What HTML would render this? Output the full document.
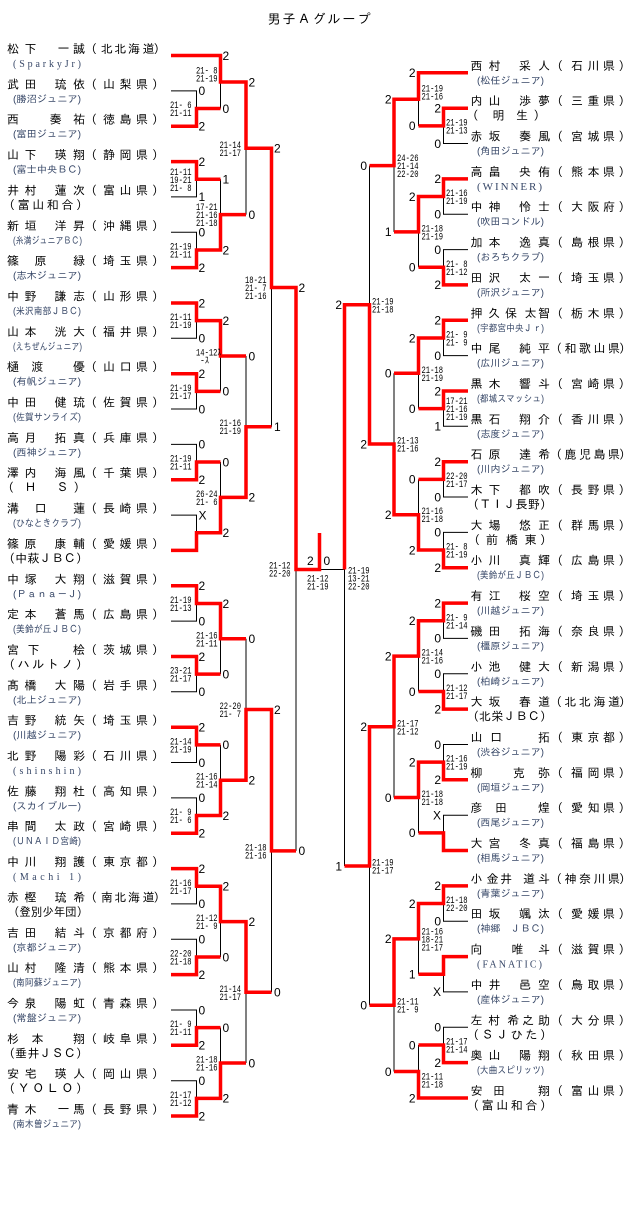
<!DOCTYPE html>
<html><head><meta charset="utf-8">
<style>
html,body{margin:0;padding:0;background:#fff;}
svg{display:block}
.t{font-family:"Liberation Sans","IPAGothic","Noto Sans CJK JP",sans-serif;font-size:12px;fill:#000}
.ti{font-family:"Liberation Sans","IPAGothic","Noto Sans CJK JP",sans-serif;font-size:13px;fill:#000;letter-spacing:2px}
.s{font-family:"Liberation Sans","IPAGothic","Noto Sans CJK JP",sans-serif;font-size:10px;fill:#384868}
.sf{font-family:"Liberation Serif","IPAGothic",serif;font-size:10px;fill:#384868}
.sw{font-family:"Liberation Serif","IPAGothic",serif;font-size:11px;fill:#384868}
.d{font-family:"Liberation Sans",sans-serif;font-size:12px;fill:#000}
.dr{font-family:"Liberation Sans",sans-serif;font-size:12px;fill:#000;text-anchor:end}
.m{font-family:"Liberation Mono","IPAGothic",monospace;font-size:10px;fill:#000}
.r{fill:none;stroke:#f00;stroke-width:3.5;stroke-linejoin:miter}
.k{fill:none;stroke:#000;stroke-width:1}
</style></head><body>
<svg xmlns="http://www.w3.org/2000/svg" width="640" height="1205" viewBox="0 0 640 1205">
<rect width="640" height="1205" fill="#fff"/>
<text class="ti" x="320" y="23.5" text-anchor="middle">男子Ａグループ</text>

<!-- black lines -->
<path class="k" d="
M171 90.9H196.5V108.55 M171 196.9H196.5V179.25 M171 232.3H196.5V249.95 M171 338.3H196.5V320.65
M171 409H196.5V391.35 M171 444.4H196.5V462.05 M171 515.1H196.5V532.75 M171 621.1H196.5V603.45
M171 691.8H196.5V674.15 M171 762.5H196.5V744.85 M171 797.9H196.5V815.55 M171 903.9H196.5V886.25
M171 939.3H196.5V956.95 M171 1010H196.5V1027.65 M171 1080.7H196.5V1098.35
M220.5 108.55V82 M220.5 179.25V214.6 M220.5 391.35V356 M220.5 462.05V497.4
M220.5 674.15V638.8 M220.5 744.85V780.2 M220.5 956.95V921.6 M220.5 1027.65V1063
M246 214.6V148.3 M246 356V426.7 M246 638.8V709.5 M246 1063V992.3
M271.5 426.7V287.5 M271.5 992.3V850.9
M296 850.9V569.5
M468 143.5H443.5V125.85 M468 214.2H443.5V196.55 M468 249.6H443.5V267.25 M468 355.6H443.5V337.95
M468 426.3H443.5V408.65 M468 497H443.5V479.35 M468 532.4H443.5V550.05 M468 638.4H443.5V620.75
M468 673.8H443.5V691.45 M468 744.5H443.5V762.15 M468 815.2H443.5V832.85 M468 921.2H443.5V903.55
M468 991.9H443.5V974.25 M468 1027.3H443.5V1044.95
M418.5 125.85V99.3 M418.5 267.25V231.9 M418.5 408.65V373.3 M418.5 479.35V514.7
M418.5 691.45V656.1 M418.5 832.85V797.5 M418.5 974.25V938.9 M418.5 1044.95V1071.5
M394 231.9V165.6 M394 373.3V444 M394 797.5V726.8 M394 1071.5V1005.2
M369.5 165.6V304.8 M369.5 1005.2V866
M344.5 866V569.5H319.5"/>

<!-- red lines -->
<path class="r" d="
M171 55.5H220.5
M171 126.2H196.5V108.55H220.5 M171 161.6H196.5V179.25H220.5 M171 267.6H196.5V249.95H220.5
M171 303H196.5V320.65H220.5 M171 373.7H196.5V391.35H220.5 M171 479.7H196.5V462.05H220.5
M171 550.4H196.5V532.75H220.5 M171 585.8H196.5V603.45H220.5 M171 656.5H196.5V674.15H220.5
M171 727.2H196.5V744.85H220.5 M171 833.2H196.5V815.55H220.5 M171 868.6H196.5V886.25H220.5
M171 974.6H196.5V956.95H220.5 M171 1045.3H196.5V1027.65H220.5 M171 1116H196.5V1098.35H220.5
M196.5 55.5H220.5V82H246 M196.5 249.95H220.5V214.6H246 M196.5 320.65H220.5V356H246
M196.5 532.75H220.5V497.4H246 M196.5 603.45H220.5V638.8H246 M196.5 815.55H220.5V780.2H246
M196.5 886.25H220.5V921.6H246 M196.5 1098.35H220.5V1063H246
M220.5 82H246V148.3H271.5 M220.5 497.4H246V426.7H271.5 M220.5 780.2H246V709.5H271.5 M220.5 921.6H246V992.3H271.5
M246 148.3H271.5V287.5H296 M246 709.5H271.5V850.9H296
M271.5 287.5H296V569.5H319.5V533
M468 72.8H418.5 M468 1098H418.5
M468 108.2H443.5V125.85H418.5 M468 178.9H443.5V196.55H418.5 M468 284.9H443.5V267.25H418.5
M468 320.3H443.5V337.95H418.5 M468 391H443.5V408.65H418.5 M468 461.7H443.5V479.35H418.5
M468 567.7H443.5V550.05H418.5 M468 603.1H443.5V620.75H418.5 M468 709.1H443.5V691.45H418.5
M468 779.8H443.5V762.15H418.5 M468 850.5H443.5V832.85H418.5 M468 885.9H443.5V903.55H418.5
M468 956.6H443.5V974.25H418.5 M468 1062.6H443.5V1044.95H418.5
M443.5 72.8H418.5V99.3H394 M443.5 196.55H418.5V231.9H394 M443.5 337.95H418.5V373.3H394
M443.5 550.05H418.5V514.7H394 M443.5 620.75H418.5V656.1H394 M443.5 762.15H418.5V797.5H394
M443.5 903.55H418.5V938.9H394 M443.5 1098H418.5V1071.5H394
M418.5 99.3H394V165.6H369.5 M418.5 514.7H394V444H369.5 M418.5 656.1H394V726.8H369.5 M418.5 938.9H394V1005.2H369.5
M394 444H369.5V304.8H344.5 M394 726.8H369.5V866H344.5
M369.5 304.8H344.5V569.5"/>

<!-- LEFT names -->
<g class="t">
<text x="7 24.5 57.5 73" y="53">松下一誠</text><text x="85 101 114.5 128 142.5 153.5" y="53">（北北海道）</text>
<text x="7 24.5 54.5 73" y="88.4">武田琉依</text><text x="85 103 119.5 136 152" y="88.4">（山梨県）</text>
<text x="7 49.5 73" y="123.7">西奏祐</text><text x="85 103 119.5 136 152" y="123.7">（徳島県）</text>
<text x="7 24.5 54.5 73" y="159.1">山下瑛翔</text><text x="85 103 119.5 136 152" y="159.1">（静岡県）</text>
<text x="7 24.5 54.5 73" y="194.4">井村蓮次</text><text x="85 103 119.5 136 152" y="194.4">（富山県）</text>
<text x="7 24.5 54.5 73" y="229.8">新垣洋昇</text><text x="85 103 119.5 136 152" y="229.8">（沖縄県）</text>
<text x="7 34.5 73" y="265.1">篠原緑</text><text x="85 103 119.5 136 152" y="265.1">（埼玉県）</text>
<text x="7 24.5 54.5 73" y="300.5">中野謙志</text><text x="85 103 119.5 136 152" y="300.5">（山形県）</text>
<text x="7 24.5 54.5 73" y="335.8">山本洸大</text><text x="85 103 119.5 136 152" y="335.8">（福井県）</text>
<text x="7 31.5 73" y="371.2">樋渡優</text><text x="85 103 119.5 136 152" y="371.2">（山口県）</text>
<text x="7 24.5 54.5 73" y="406.5">中田健琉</text><text x="85 103 119.5 136 152" y="406.5">（佐賀県）</text>
<text x="7 24.5 54.5 73" y="441.9">高月拓真</text><text x="85 103 119.5 136 152" y="441.9">（兵庫県）</text>
<text x="7 24.5 54.5 73" y="477.2">澤内海風</text><text x="85 103 119.5 136 152" y="477.2">（千葉県）</text>
<text x="7 34.5 73" y="512.6">溝口蓮</text><text x="85 103 119.5 136 152" y="512.6">（長崎県）</text>
<text x="7 24.5 54.5 73" y="547.9">篠原康輔</text><text x="85 103 119.5 136 152" y="547.9">（愛媛県）</text>
<text x="7 24.5 54.5 73" y="583.3">中塚大翔</text><text x="85 103 119.5 136 152" y="583.3">（滋賀県）</text>
<text x="7 24.5 54.5 73" y="618.6">定本蒼馬</text><text x="85 103 119.5 136 152" y="618.6">（広島県）</text>
<text x="7 27.5 73" y="654">宮下桧</text><text x="85 103 119.5 136 152" y="654">（茨城県）</text>
<text x="7 24.5 54.5 73" y="689.3">髙橋大陽</text><text x="85 103 119.5 136 152" y="689.3">（岩手県）</text>
<text x="7 24.5 54.5 73" y="724.7">吉野統矢</text><text x="85 103 119.5 136 152" y="724.7">（埼玉県）</text>
<text x="7 24.5 54.5 73" y="760">北野陽彩</text><text x="85 103 119.5 136 152" y="760">（石川県）</text>
<text x="7 24.5 54.5 73" y="795.4">佐藤翔杜</text><text x="85 103 119.5 136 152" y="795.4">（高知県）</text>
<text x="7 24.5 54.5 73" y="830.7">串間太政</text><text x="85 103 119.5 136 152" y="830.7">（宮崎県）</text>
<text x="7 24.5 54.5 73" y="866.1">中川翔護</text><text x="85 103 119.5 136 152" y="866.1">（東京都）</text>
<text x="7 24.5 54.5 73" y="901.4">赤樫琉希</text><text x="85 101 114.5 128 142.5 153.5" y="901.4">（南北海道）</text>
<text x="7 24.5 54.5 73" y="936.8">吉田結斗</text><text x="85 103 119.5 136 152" y="936.8">（京都府）</text>
<text x="7 24.5 54.5 73" y="972.1">山村隆清</text><text x="85 103 119.5 136 152" y="972.1">（熊本県）</text>
<text x="7 24.5 54.5 73" y="1007.5">今泉陽虹</text><text x="85 103 119.5 136 152" y="1007.5">（青森県）</text>
<text x="7 31.5 73" y="1042.8">杉本翔</text><text x="85 103 119.5 136 152" y="1042.8">（岐阜県）</text>
<text x="7 24.5 54.5 73" y="1078.2">安宅瑛人</text><text x="85 103 119.5 136 152" y="1078.2">（岡山県）</text>
<text x="7 24.5 57.5 73" y="1113.5">青木一馬</text><text x="85 103 119.5 136 152" y="1113.5">（長野県）</text>
<!-- left full-size teams -->
<text x="3" y="208.9" textLength="85" lengthAdjust="spacing">（富山和合）</text>
<text x="2 24.5 56.5 73.5" y="491.7">（ＨＳ）</text>
<text x="3" y="562.4" textLength="85" lengthAdjust="spacing">（中萩ＪＢＣ）</text>
<text x="3" y="668.5" textLength="85" lengthAdjust="spacing">（ハルトノ）</text>
<text x="8" y="915.9" textLength="80" lengthAdjust="spacingAndGlyphs">（登別少年団）</text>
<text x="3" y="1057.3" textLength="85" lengthAdjust="spacing">（垂井ＪＳＣ）</text>
<text x="3" y="1092.7" textLength="85" lengthAdjust="spacing">（ＹＯＬＯ）</text>
</g>
<!-- left small teams -->
<g class="s">
<text class="sf" x="13" y="67" textLength="68" lengthAdjust="spacing">(SparkyJr)</text>
<text x="13" y="102.4" textLength="68" lengthAdjust="spacingAndGlyphs">(勝沼ジュニア)</text>
<text x="13" y="137.7" textLength="68" lengthAdjust="spacingAndGlyphs">(富田ジュニア)</text>
<text x="13" y="173.1" textLength="68" lengthAdjust="spacingAndGlyphs">(富士中央ＢＣ)</text>
<text x="13" y="243.8" textLength="69" lengthAdjust="spacingAndGlyphs">(糸満ジュニアＢＣ)</text>
<text x="13" y="279.1" textLength="68" lengthAdjust="spacingAndGlyphs">(志木ジュニア)</text>
<text x="13" y="314.5" textLength="68" lengthAdjust="spacingAndGlyphs">(米沢南部ＪＢＣ)</text>
<text x="13" y="349.8" textLength="69" lengthAdjust="spacingAndGlyphs">(えちぜんジュニア)</text>
<text x="13" y="385.2" textLength="68" lengthAdjust="spacingAndGlyphs">(有帆ジュニア)</text>
<text x="13" y="420.5" textLength="68" lengthAdjust="spacingAndGlyphs">(佐賀サンライズ)</text>
<text x="13" y="455.9" textLength="68" lengthAdjust="spacingAndGlyphs">(西神ジュニア)</text>
<text x="13" y="526.6" textLength="68" lengthAdjust="spacingAndGlyphs">(ひなときクラブ)</text>
<text x="13" y="597.3" textLength="68" lengthAdjust="spacingAndGlyphs">(Ｐａｎａ－Ｊ)</text>
<text x="13" y="632.6" textLength="68" lengthAdjust="spacingAndGlyphs">(美鈴が丘ＪＢＣ)</text>
<text x="13" y="703.3" textLength="68" lengthAdjust="spacingAndGlyphs">(北上ジュニア)</text>
<text x="13" y="738.7" textLength="68" lengthAdjust="spacingAndGlyphs">(川越ジュニア)</text>
<text class="sf" x="13" y="774" textLength="68" lengthAdjust="spacing">(shinshin)</text>
<text x="13" y="809.4" textLength="68" lengthAdjust="spacingAndGlyphs">(スカイブルー)</text>
<text x="13" y="844.7" textLength="68" lengthAdjust="spacingAndGlyphs">(ＵＮＡＩＤ宮崎)</text>
<text class="sf" x="13" y="880.1" textLength="68" lengthAdjust="spacing">(Machi 1)</text>
<text x="13" y="950.8" textLength="68" lengthAdjust="spacingAndGlyphs">(京都ジュニア)</text>
<text x="13" y="986.1" textLength="68" lengthAdjust="spacingAndGlyphs">(南阿蘇ジュニア)</text>
<text x="13" y="1021.5" textLength="68" lengthAdjust="spacingAndGlyphs">(常盤ジュニア)</text>
<text x="13" y="1127.5" textLength="68" lengthAdjust="spacingAndGlyphs">(南木曽ジュニア)</text>
</g>

<!-- RIGHT names -->
<g class="t">
<text x="470.5 488.5 519 538" y="69.8">西村采人</text><text x="551 571 587.5 603 618.5" y="69.8">（石川県）</text>
<text x="470.5 488.5 519 538" y="105.2">内山渉夢</text><text x="551 571 587.5 603 618.5" y="105.2">（三重県）</text>
<text x="470.5 488.5 519 538" y="140.5">赤坂奏風</text><text x="551 571 587.5 603 618.5" y="140.5">（宮城県）</text>
<text x="470.5 488.5 519 538" y="175.9">高畠央侑</text><text x="551 571 587.5 603 618.5" y="175.9">（熊本県）</text>
<text x="470.5 488.5 519 538" y="211.2">中神怜士</text><text x="551 571 587.5 603 618.5" y="211.2">（大阪府）</text>
<text x="470.5 488.5 519 538" y="246.6">加本逸真</text><text x="551 571 587.5 603 618.5" y="246.6">（島根県）</text>
<text x="470.5 488.5 519 538" y="281.9">田沢太一</text><text x="551 571 587.5 603 618.5" y="281.9">（埼玉県）</text>
<text x="470.5 488 505 524.5 538" y="317.3">押久保太智</text><text x="551 571 587.5 603 618.5" y="317.3">（栃木県）</text>
<text x="470.5 488.5 519 538" y="352.6">中尾純平</text><text x="550 564.5 579 593.5 608 619" y="352.6">（和歌山県）</text>
<text x="470.5 488.5 519 538" y="388">黒木響斗</text><text x="551 571 587.5 603 618.5" y="388">（宮崎県）</text>
<text x="470.5 488.5 519 538" y="423.3">黒石翔介</text><text x="551 571 587.5 603 618.5" y="423.3">（香川県）</text>
<text x="470.5 488.5 519 538" y="458.7">石原達希</text><text x="550 564.5 579 593.5 608 619" y="458.7">（鹿児島県）</text>
<text x="470.5 488.5 519 538" y="494">木下都吹</text><text x="551 571 587.5 603 618.5" y="494">（長野県）</text>
<text x="470.5 488.5 519 538" y="529.4">大場悠正</text><text x="551 571 587.5 603 618.5" y="529.4">（群馬県）</text>
<text x="470.5 488.5 519 538" y="564.7">小川真輝</text><text x="551 571 587.5 603 618.5" y="564.7">（広島県）</text>
<text x="470.5 488.5 519 538" y="600.1">有江桜空</text><text x="551 571 587.5 603 618.5" y="600.1">（埼玉県）</text>
<text x="470.5 488.5 519 538" y="635.4">磯田拓海</text><text x="551 571 587.5 603 618.5" y="635.4">（奈良県）</text>
<text x="470.5 488.5 519 538" y="670.8">小池健大</text><text x="551 571 587.5 603 618.5" y="670.8">（新潟県）</text>
<text x="470.5 488.5 519 538" y="706.1">大坂春道</text><text x="550 564.5 579 593.5 608 619" y="706.1">（北北海道）</text>
<text x="470.5 490 538" y="741.5">山口拓</text><text x="551 571 587.5 603 618.5" y="741.5">（東京都）</text>
<text x="470.5 513 538" y="776.8">柳克弥</text><text x="551 571 587.5 603 618.5" y="776.8">（福岡県）</text>
<text x="470.5 495 538" y="812.2">彦田煌</text><text x="551 571 587.5 603 618.5" y="812.2">（愛知県）</text>
<text x="470.5 488.5 519 538" y="847.5">大宮冬真</text><text x="551 571 587.5 603 618.5" y="847.5">（福島県）</text>
<text x="470.5 486.5 500 523 538" y="882.9">小金井道斗</text><text x="550 564.5 579 593.5 608 619" y="882.9">（神奈川県）</text>
<text x="470.5 488.5 519 538" y="918.2">田坂颯汰</text><text x="551 571 587.5 603 618.5" y="918.2">（愛媛県）</text>
<text x="470.5 511.5 538" y="953.6">向唯斗</text><text x="551 571 587.5 603 618.5" y="953.6">（滋賀県）</text>
<text x="470.5 488.5 519 538" y="988.9">中井邑空</text><text x="551 571 587.5 603 618.5" y="988.9">（鳥取県）</text>
<text x="470.5 488 507 522 538" y="1024.3">左村希之助</text><text x="551 571 587.5 603 618.5" y="1024.3">（大分県）</text>
<text x="470.5 488.5 519 538" y="1059.6">奥山陽翔</text><text x="551 571 587.5 603 618.5" y="1059.6">（秋田県）</text>
<text x="470.5 493 538" y="1095">安田翔</text><text x="551 571 587.5 603 618.5" y="1095">（富山県）</text>
<!-- right full-size teams -->
<text x="466.5 492.5 516 533.5" y="119.7">（明生）</text>
<text x="467" y="508.5" textLength="85" lengthAdjust="spacing">（ＴＩＪ長野）</text>
<text x="468 486 506 524.5 540" y="543.9">（前橋東）</text>
<text x="467" y="720.6" textLength="85" lengthAdjust="spacing">（北栄ＪＢＣ）</text>
<text x="467" y="1038.8" textLength="85" lengthAdjust="spacing">（ＳＪひた）</text>
<text x="467" y="1109.5" textLength="85" lengthAdjust="spacing">（富山和合）</text>
</g>
<!-- right small teams -->
<g class="s">
<text x="477" y="83.8" textLength="67" lengthAdjust="spacingAndGlyphs">(松任ジュニア)</text>
<text x="477" y="154.5" textLength="67" lengthAdjust="spacingAndGlyphs">(角田ジュニア)</text>
<text class="sw" x="477" y="189.9" textLength="65" lengthAdjust="spacing">(WINNER)</text>
<text x="477" y="225.2" textLength="67" lengthAdjust="spacingAndGlyphs">(吹田コンドル)</text>
<text x="477" y="260.6" textLength="67" lengthAdjust="spacingAndGlyphs">(おろちクラブ)</text>
<text x="477" y="295.9" textLength="67" lengthAdjust="spacingAndGlyphs">(所沢ジュニア)</text>
<text x="477" y="331.3" textLength="67" lengthAdjust="spacingAndGlyphs">(宇都宮中央Ｊｒ)</text>
<text x="477" y="366.6" textLength="67" lengthAdjust="spacingAndGlyphs">(広川ジュニア)</text>
<text x="477" y="402" textLength="67" lengthAdjust="spacingAndGlyphs">(都城スマッシュ)</text>
<text x="477" y="437.3" textLength="67" lengthAdjust="spacingAndGlyphs">(志度ジュニア)</text>
<text x="477" y="472.7" textLength="67" lengthAdjust="spacingAndGlyphs">(川内ジュニア)</text>
<text x="477" y="578.7" textLength="67" lengthAdjust="spacingAndGlyphs">(美鈴が丘ＪＢＣ)</text>
<text x="477" y="614.1" textLength="67" lengthAdjust="spacingAndGlyphs">(川越ジュニア)</text>
<text x="477" y="649.4" textLength="67" lengthAdjust="spacingAndGlyphs">(橿原ジュニア)</text>
<text x="477" y="684.8" textLength="67" lengthAdjust="spacingAndGlyphs">(柏崎ジュニア)</text>
<text x="477" y="755.5" textLength="67" lengthAdjust="spacingAndGlyphs">(渋谷ジュニア)</text>
<text x="477" y="790.8" textLength="67" lengthAdjust="spacingAndGlyphs">(岡垣ジュニア)</text>
<text x="477" y="826.2" textLength="67" lengthAdjust="spacingAndGlyphs">(西尾ジュニア)</text>
<text x="477" y="861.5" textLength="67" lengthAdjust="spacingAndGlyphs">(相馬ジュニア)</text>
<text x="477" y="896.9" textLength="67" lengthAdjust="spacingAndGlyphs">(青葉ジュニア)</text>
<text x="477" y="932.2" textLength="67" lengthAdjust="spacingAndGlyphs">(神郷　ＪＢＣ)</text>
<text class="sf" x="477" y="967.6" textLength="65" lengthAdjust="spacing">(FANATIC)</text>
<text x="477" y="1002.9" textLength="67" lengthAdjust="spacingAndGlyphs">(産体ジュニア)</text>
<text x="477" y="1073.6" textLength="67" lengthAdjust="spacingAndGlyphs">(大曲スピリッツ)</text>
</g>

<!-- left digits -->
<g class="d">
<text x="198.5" y="95.2">0</text><text x="198.5" y="130.5">2</text>
<text x="198.5" y="165.9">2</text><text x="198.5" y="201.2">1</text>
<text x="198.5" y="236.6">0</text><text x="198.5" y="271.9">2</text>
<text x="198.5" y="307.3">2</text><text x="198.5" y="342.6">0</text>
<text x="198.5" y="378">2</text><text x="198.5" y="413.3">0</text>
<text x="198.5" y="448.7">0</text><text x="198.5" y="484">2</text>
<text x="198.5" y="519.4">X</text>
<text x="198.5" y="590.1">2</text><text x="198.5" y="625.4">0</text>
<text x="198.5" y="660.8">2</text><text x="198.5" y="696.1">0</text>
<text x="198.5" y="731.5">2</text><text x="198.5" y="766.8">0</text>
<text x="198.5" y="802.2">0</text><text x="198.5" y="837.5">2</text>
<text x="198.5" y="872.9">2</text><text x="198.5" y="908.2">0</text>
<text x="198.5" y="943.6">0</text><text x="198.5" y="978.9">2</text>
<text x="198.5" y="1014.3">0</text><text x="198.5" y="1049.6">2</text>
<text x="198.5" y="1085">0</text><text x="198.5" y="1120.3">2</text>
<text x="222.5" y="59.8">2</text><text x="222.5" y="112.85">0</text>
<text x="222.5" y="183.55">1</text><text x="222.5" y="254.25">2</text>
<text x="222.5" y="324.95">2</text><text x="222.5" y="395.65">0</text>
<text x="222.5" y="466.35">0</text><text x="222.5" y="537.05">2</text>
<text x="222.5" y="607.75">2</text><text x="222.5" y="678.45">0</text>
<text x="222.5" y="749.15">0</text><text x="222.5" y="819.85">2</text>
<text x="222.5" y="890.55">2</text><text x="222.5" y="961.25">0</text>
<text x="222.5" y="1031.95">0</text><text x="222.5" y="1102.65">2</text>
<text x="248.5" y="86.3">2</text><text x="248.5" y="218.9">0</text>
<text x="248.5" y="360.3">0</text><text x="248.5" y="501.7">2</text>
<text x="248.5" y="643.1">0</text><text x="248.5" y="784.5">2</text>
<text x="248.5" y="925.9">2</text><text x="248.5" y="1067.3">0</text>
<text x="274" y="152.6">2</text><text x="274" y="431">1</text>
<text x="274" y="713.8">2</text><text x="274" y="996.6">0</text>
<text x="298.5" y="291.8">2</text><text x="298.5" y="855.2">0</text>
<text x="307" y="565">2</text><text x="323.5" y="565">0</text>
</g>
<!-- right digits -->
<g class="dr">
<text x="441" y="112.5">2</text><text x="441" y="147.8">0</text>
<text x="441" y="183.2">2</text><text x="441" y="218.5">0</text>
<text x="441" y="253.9">0</text><text x="441" y="289.2">2</text>
<text x="441" y="324.6">2</text><text x="441" y="359.9">0</text>
<text x="441" y="395.3">2</text><text x="441" y="430.6">1</text>
<text x="441" y="466">2</text><text x="441" y="501.3">0</text>
<text x="441" y="536.7">0</text><text x="441" y="572">2</text>
<text x="441" y="607.4">2</text><text x="441" y="642.7">0</text>
<text x="441" y="678.1">0</text><text x="441" y="713.4">2</text>
<text x="441" y="748.8">0</text><text x="441" y="784.1">2</text>
<text x="441" y="819.5">X</text>
<text x="441" y="890.2">2</text><text x="441" y="925.5">0</text>
<text x="441" y="996.2">X</text>
<text x="441" y="1031.6">0</text><text x="441" y="1066.9">2</text>
<text x="415.5" y="77.1">2</text><text x="415.5" y="130.15">0</text>
<text x="415.5" y="200.85">2</text><text x="415.5" y="271.55">0</text>
<text x="415.5" y="342.25">2</text><text x="415.5" y="412.95">0</text>
<text x="415.5" y="483.65">0</text><text x="415.5" y="554.35">2</text>
<text x="415.5" y="625.05">2</text><text x="415.5" y="695.75">0</text>
<text x="415.5" y="766.45">2</text><text x="415.5" y="837.15">0</text>
<text x="415.5" y="907.85">2</text><text x="415.5" y="978.55">1</text>
<text x="415.5" y="1049.25">0</text><text x="415.5" y="1102.3">2</text>
<text x="391.5" y="103.6">2</text><text x="391.5" y="236.2">1</text>
<text x="391.5" y="377.6">0</text><text x="391.5" y="519">2</text>
<text x="391.5" y="660.4">2</text><text x="391.5" y="801.8">0</text>
<text x="391.5" y="943.2">2</text><text x="391.5" y="1075.8">0</text>
<text x="367" y="169.9">0</text><text x="367" y="448.3">2</text>
<text x="367" y="731.1">2</text><text x="367" y="1009.5">0</text>
<text x="342" y="309.1">2</text><text x="342" y="870.3">1</text>
</g>

<!-- match scores -->
<g class="m">
<!-- left L1 -->
<text x="170" y="108.05" textLength="21.5" lengthAdjust="spacingAndGlyphs">21- 6</text><text x="170" y="116.05" textLength="21.5" lengthAdjust="spacingAndGlyphs">21-11</text>
<text x="170" y="174.75" textLength="21.5" lengthAdjust="spacingAndGlyphs">21-11</text><text x="170" y="182.75" textLength="21.5" lengthAdjust="spacingAndGlyphs">19-21</text><text x="170" y="190.75" textLength="21.5" lengthAdjust="spacingAndGlyphs">21- 8</text>
<text x="170" y="249.45" textLength="21.5" lengthAdjust="spacingAndGlyphs">21-19</text><text x="170" y="257.45" textLength="21.5" lengthAdjust="spacingAndGlyphs">21-11</text>
<text x="170" y="320.15" textLength="21.5" lengthAdjust="spacingAndGlyphs">21-11</text><text x="170" y="328.15" textLength="21.5" lengthAdjust="spacingAndGlyphs">21-19</text>
<text x="170" y="390.85" textLength="21.5" lengthAdjust="spacingAndGlyphs">21-19</text><text x="170" y="398.85" textLength="21.5" lengthAdjust="spacingAndGlyphs">21-17</text>
<text x="170" y="461.55" textLength="21.5" lengthAdjust="spacingAndGlyphs">21-19</text><text x="170" y="469.55" textLength="21.5" lengthAdjust="spacingAndGlyphs">21-11</text>
<text x="170" y="602.95" textLength="21.5" lengthAdjust="spacingAndGlyphs">21-19</text><text x="170" y="610.95" textLength="21.5" lengthAdjust="spacingAndGlyphs">21-13</text>
<text x="170" y="673.65" textLength="21.5" lengthAdjust="spacingAndGlyphs">23-21</text><text x="170" y="681.65" textLength="21.5" lengthAdjust="spacingAndGlyphs">21-17</text>
<text x="170" y="744.35" textLength="21.5" lengthAdjust="spacingAndGlyphs">21-14</text><text x="170" y="752.35" textLength="21.5" lengthAdjust="spacingAndGlyphs">21-19</text>
<text x="170" y="815.05" textLength="21.5" lengthAdjust="spacingAndGlyphs">21- 9</text><text x="170" y="823.05" textLength="21.5" lengthAdjust="spacingAndGlyphs">21- 6</text>
<text x="170" y="885.75" textLength="21.5" lengthAdjust="spacingAndGlyphs">21-16</text><text x="170" y="893.75" textLength="21.5" lengthAdjust="spacingAndGlyphs">21-17</text>
<text x="170" y="956.45" textLength="21.5" lengthAdjust="spacingAndGlyphs">22-20</text><text x="170" y="964.45" textLength="21.5" lengthAdjust="spacingAndGlyphs">21-18</text>
<text x="170" y="1027.15" textLength="21.5" lengthAdjust="spacingAndGlyphs">21- 9</text><text x="170" y="1035.15" textLength="21.5" lengthAdjust="spacingAndGlyphs">21-11</text>
<text x="170" y="1097.85" textLength="21.5" lengthAdjust="spacingAndGlyphs">21-17</text><text x="170" y="1105.85" textLength="21.5" lengthAdjust="spacingAndGlyphs">21-12</text>
<!-- left L2 -->
<text x="196" y="73.5" textLength="21.5" lengthAdjust="spacingAndGlyphs">21- 8</text><text x="196" y="81.5" textLength="21.5" lengthAdjust="spacingAndGlyphs">21-19</text>
<text x="196" y="210.1" textLength="21.5" lengthAdjust="spacingAndGlyphs">17-21</text><text x="196" y="218.1" textLength="21.5" lengthAdjust="spacingAndGlyphs">21-16</text><text x="196" y="226.1" textLength="21.5" lengthAdjust="spacingAndGlyphs">21-18</text>
<text x="196" y="355.5" textLength="25" lengthAdjust="spacingAndGlyphs">14-12ｽ</text><text x="200" y="363.5" textLength="9" lengthAdjust="spacingAndGlyphs">-ｽ</text>
<text x="196" y="496.9" textLength="21.5" lengthAdjust="spacingAndGlyphs">26-24</text><text x="196" y="504.9" textLength="21.5" lengthAdjust="spacingAndGlyphs">21- 6</text>
<text x="196" y="638.3" textLength="21.5" lengthAdjust="spacingAndGlyphs">21-16</text><text x="196" y="646.3" textLength="21.5" lengthAdjust="spacingAndGlyphs">21-11</text>
<text x="196" y="779.7" textLength="21.5" lengthAdjust="spacingAndGlyphs">21-16</text><text x="196" y="787.7" textLength="21.5" lengthAdjust="spacingAndGlyphs">21-14</text>
<text x="196" y="921.1" textLength="21.5" lengthAdjust="spacingAndGlyphs">21-12</text><text x="196" y="929.1" textLength="21.5" lengthAdjust="spacingAndGlyphs">21- 9</text>
<text x="196" y="1062.5" textLength="21.5" lengthAdjust="spacingAndGlyphs">21-18</text><text x="196" y="1070.5" textLength="21.5" lengthAdjust="spacingAndGlyphs">21-16</text>
<!-- left L3 -->
<text x="219.5" y="147.8" textLength="21.5" lengthAdjust="spacingAndGlyphs">21-14</text><text x="219.5" y="155.8" textLength="21.5" lengthAdjust="spacingAndGlyphs">21-17</text>
<text x="219.5" y="426.2" textLength="21.5" lengthAdjust="spacingAndGlyphs">21-16</text><text x="219.5" y="434.2" textLength="21.5" lengthAdjust="spacingAndGlyphs">21-19</text>
<text x="219.5" y="709" textLength="21.5" lengthAdjust="spacingAndGlyphs">22-20</text><text x="219.5" y="717" textLength="21.5" lengthAdjust="spacingAndGlyphs">21- 7</text>
<text x="219.5" y="991.8" textLength="21.5" lengthAdjust="spacingAndGlyphs">21-14</text><text x="219.5" y="999.8" textLength="21.5" lengthAdjust="spacingAndGlyphs">21-17</text>
<!-- left L4 -->
<text x="245" y="283" textLength="21.5" lengthAdjust="spacingAndGlyphs">18-21</text><text x="245" y="291" textLength="21.5" lengthAdjust="spacingAndGlyphs">21- 7</text><text x="245" y="299" textLength="21.5" lengthAdjust="spacingAndGlyphs">21-16</text>
<text x="245" y="850.4" textLength="21.5" lengthAdjust="spacingAndGlyphs">21-18</text><text x="245" y="858.4" textLength="21.5" lengthAdjust="spacingAndGlyphs">21-16</text>
<!-- semis & final -->
<text x="269" y="568.7" textLength="21.5" lengthAdjust="spacingAndGlyphs">21-12</text><text x="269" y="576.7" textLength="21.5" lengthAdjust="spacingAndGlyphs">22-20</text>
<text x="307" y="581.5" textLength="21.5" lengthAdjust="spacingAndGlyphs">21-12</text><text x="307" y="589.5" textLength="21.5" lengthAdjust="spacingAndGlyphs">21-19</text>
<text x="348" y="573.5" textLength="21.5" lengthAdjust="spacingAndGlyphs">21-19</text><text x="348" y="581.5" textLength="21.5" lengthAdjust="spacingAndGlyphs">13-21</text><text x="348" y="589.5" textLength="21.5" lengthAdjust="spacingAndGlyphs">22-20</text>
<!-- right L1 -->
<text x="446" y="125.35" textLength="21.5" lengthAdjust="spacingAndGlyphs">21-19</text><text x="446" y="133.35" textLength="21.5" lengthAdjust="spacingAndGlyphs">21-13</text>
<text x="446" y="196.05" textLength="21.5" lengthAdjust="spacingAndGlyphs">21-16</text><text x="446" y="204.05" textLength="21.5" lengthAdjust="spacingAndGlyphs">21-19</text>
<text x="446" y="266.75" textLength="21.5" lengthAdjust="spacingAndGlyphs">21- 8</text><text x="446" y="274.75" textLength="21.5" lengthAdjust="spacingAndGlyphs">21-12</text>
<text x="446" y="337.45" textLength="21.5" lengthAdjust="spacingAndGlyphs">21- 9</text><text x="446" y="345.45" textLength="21.5" lengthAdjust="spacingAndGlyphs">21- 9</text>
<text x="446" y="404.15" textLength="21.5" lengthAdjust="spacingAndGlyphs">17-21</text><text x="446" y="412.15" textLength="21.5" lengthAdjust="spacingAndGlyphs">21-16</text><text x="446" y="420.15" textLength="21.5" lengthAdjust="spacingAndGlyphs">21-19</text>
<text x="446" y="478.85" textLength="21.5" lengthAdjust="spacingAndGlyphs">22-20</text><text x="446" y="486.85" textLength="21.5" lengthAdjust="spacingAndGlyphs">21-17</text>
<text x="446" y="549.55" textLength="21.5" lengthAdjust="spacingAndGlyphs">21- 8</text><text x="446" y="557.55" textLength="21.5" lengthAdjust="spacingAndGlyphs">21-19</text>
<text x="446" y="620.25" textLength="21.5" lengthAdjust="spacingAndGlyphs">21- 9</text><text x="446" y="628.25" textLength="21.5" lengthAdjust="spacingAndGlyphs">21-14</text>
<text x="446" y="690.95" textLength="21.5" lengthAdjust="spacingAndGlyphs">21-12</text><text x="446" y="698.95" textLength="21.5" lengthAdjust="spacingAndGlyphs">21-17</text>
<text x="446" y="761.65" textLength="21.5" lengthAdjust="spacingAndGlyphs">21-16</text><text x="446" y="769.65" textLength="21.5" lengthAdjust="spacingAndGlyphs">21-19</text>
<text x="446" y="903.05" textLength="21.5" lengthAdjust="spacingAndGlyphs">21-18</text><text x="446" y="911.05" textLength="21.5" lengthAdjust="spacingAndGlyphs">22-20</text>
<text x="446" y="1044.45" textLength="21.5" lengthAdjust="spacingAndGlyphs">21-17</text><text x="446" y="1052.45" textLength="21.5" lengthAdjust="spacingAndGlyphs">21-14</text>
<!-- right L2 -->
<text x="421.5" y="91.5" textLength="21.5" lengthAdjust="spacingAndGlyphs">21-19</text><text x="421.5" y="99.5" textLength="21.5" lengthAdjust="spacingAndGlyphs">21-16</text>
<text x="421.5" y="231.4" textLength="21.5" lengthAdjust="spacingAndGlyphs">21-18</text><text x="421.5" y="239.4" textLength="21.5" lengthAdjust="spacingAndGlyphs">21-19</text>
<text x="421.5" y="372.8" textLength="21.5" lengthAdjust="spacingAndGlyphs">21-18</text><text x="421.5" y="380.8" textLength="21.5" lengthAdjust="spacingAndGlyphs">21-19</text>
<text x="421.5" y="514.2" textLength="21.5" lengthAdjust="spacingAndGlyphs">21-16</text><text x="421.5" y="522.2" textLength="21.5" lengthAdjust="spacingAndGlyphs">21-18</text>
<text x="421.5" y="655.6" textLength="21.5" lengthAdjust="spacingAndGlyphs">21-14</text><text x="421.5" y="663.6" textLength="21.5" lengthAdjust="spacingAndGlyphs">21-16</text>
<text x="421.5" y="797" textLength="21.5" lengthAdjust="spacingAndGlyphs">21-18</text><text x="421.5" y="805" textLength="21.5" lengthAdjust="spacingAndGlyphs">21-18</text>
<text x="421.5" y="934.4" textLength="21.5" lengthAdjust="spacingAndGlyphs">21-16</text><text x="421.5" y="942.4" textLength="21.5" lengthAdjust="spacingAndGlyphs">18-21</text><text x="421.5" y="950.4" textLength="21.5" lengthAdjust="spacingAndGlyphs">21-17</text>
<text x="421.5" y="1079.5" textLength="21.5" lengthAdjust="spacingAndGlyphs">21-11</text><text x="421.5" y="1087.5" textLength="21.5" lengthAdjust="spacingAndGlyphs">21-18</text>
<!-- right L3 -->
<text x="397" y="161.1" textLength="21.5" lengthAdjust="spacingAndGlyphs">24-26</text><text x="397" y="169.1" textLength="21.5" lengthAdjust="spacingAndGlyphs">21-14</text><text x="397" y="177.1" textLength="21.5" lengthAdjust="spacingAndGlyphs">22-20</text>
<text x="397" y="443.5" textLength="21.5" lengthAdjust="spacingAndGlyphs">21-13</text><text x="397" y="451.5" textLength="21.5" lengthAdjust="spacingAndGlyphs">21-16</text>
<text x="397" y="726.3" textLength="21.5" lengthAdjust="spacingAndGlyphs">21-17</text><text x="397" y="734.3" textLength="21.5" lengthAdjust="spacingAndGlyphs">21-12</text>
<text x="397" y="1004.7" textLength="21.5" lengthAdjust="spacingAndGlyphs">21-11</text><text x="397" y="1012.7" textLength="21.5" lengthAdjust="spacingAndGlyphs">21- 9</text>
<!-- right L4 -->
<text x="372" y="304.3" textLength="21.5" lengthAdjust="spacingAndGlyphs">21-19</text><text x="372" y="312.3" textLength="21.5" lengthAdjust="spacingAndGlyphs">21-18</text>
<text x="372" y="865.5" textLength="21.5" lengthAdjust="spacingAndGlyphs">21-19</text><text x="372" y="873.5" textLength="21.5" lengthAdjust="spacingAndGlyphs">21-17</text>
</g>
</svg>
</body></html>
